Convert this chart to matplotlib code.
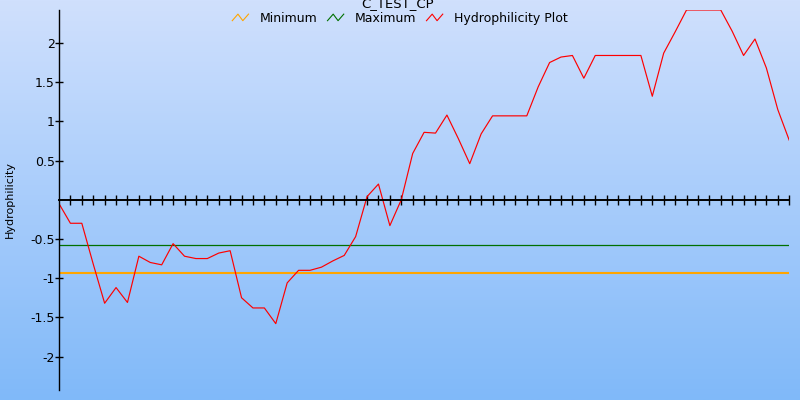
import numpy as np
import matplotlib
matplotlib.use("Agg")
import matplotlib.pyplot as plt
from matplotlib.lines import Line2D
from matplotlib.legend_handler import HandlerBase
from matplotlib.colors import LinearSegmentedColormap

plt.rcParams['font.family'] = ['DejaVu Sans']
plt.rcParams['axes.unicode_minus'] = False

# Data
title = "C_TEST_CP"
hydro = [-0.05, -0.30, -0.30, -0.82, -1.32, -1.12, -1.31, -0.72, -0.80, -0.83,
         -0.56, -0.72, -0.75, -0.75, -0.68, -0.65, -1.25, -1.38, -1.38, -1.58,
         -1.06, -0.90, -0.90, -0.86, -0.78, -0.71, -0.47, 0.04, 0.20, -0.33,
         0.00, 0.59, 0.86, 0.85, 1.08, 0.78, 0.46, 0.84, 1.07, 1.07,
         1.07, 1.07, 1.44, 1.75, 1.82, 1.84, 1.55, 1.84, 1.84, 1.84,
         1.84, 1.84, 1.32, 1.87, 2.14, 2.42, 2.42, 2.42, 2.42, 2.15,
         1.84, 2.05, 1.68, 1.15, 0.76]
positions = list(range(len(hydro)))
minimum = -0.93
maximum = -0.58
yticks = [-2, -1.5, -1, -0.5, 0.5, 1, 1.5, 2]
ytick_labels = ["-2", "-1.5", "-1", "-0.5", "0.5", "1", "1.5", "2"]


class ZigZag(HandlerBase):
    # little zigzag legend icons
    def create_artists(self, legend, orig_handle, xdescent, ydescent,
                       width, height, fontsize, trans):
        xs = np.array([0, 0.35, 0.65, 1.0]) * width - xdescent
        ys = np.array([0.15, 0.9, 0.15, 0.9]) * height - ydescent
        ln = Line2D(xs, ys, color=orig_handle.get_color(), lw=0.8)
        ln.set_transform(trans)
        return [ln]


fig = plt.figure(figsize=(8, 4), dpi=100)

# gradient background
bg = fig.add_axes([0, 0, 1, 1], zorder=-10)
cmap = LinearSegmentedColormap.from_list("bg", ["#d0e0fd", "#80b9f9"])
bg.imshow(np.linspace(0, 1, 256).reshape(-1, 1), aspect="auto", cmap=cmap,
          extent=[0, 1, 0, 1])
bg.set_axis_off()

ax = fig.add_axes([59 / 800, 1 - 389.5 / 400, (789.2 - 59) / 800, 379.5 / 400])
ax.set_facecolor("none")

ymax = max(abs(v) for v in hydro)
ax.set_xlim(0, len(hydro) - 1)
ax.set_ylim(-ymax, ymax)

l_min = ax.axhline(minimum, color="#ffa500", lw=1.5)
l_max = ax.axhline(maximum, color="#007000", lw=0.9)
l_hyd, = ax.plot(positions, hydro, color="#ff0000", lw=0.85)

for s in ["top", "right"]:
    ax.spines[s].set_visible(False)
ax.spines["bottom"].set_position(("data", 0))
ax.spines["bottom"].set_linewidth(1.4)
ax.spines["left"].set_linewidth(1.0)

ax.set_xticks(positions[1:])
ax.set_xticklabels([])
ax.tick_params(axis="x", direction="inout", length=7, width=1.0)
ax.set_yticks(yticks)
ax.set_yticklabels(ytick_labels)
ax.tick_params(axis="y", direction="inout", length=6, width=1.0,
               labelsize=9, pad=0)

ax.set_ylabel("Hydrophilicity", fontsize=8)
ax.yaxis.set_label_coords(-44 / 730, 0.5)

fig.text(0.4975, 1 - 4 / 400, title, ha="center", va="center", fontsize=9.5)

fig.legend([l_min, l_max, l_hyd], ["Minimum", "Maximum", "Hydrophilicity Plot"],
           handler_map={Line2D: ZigZag()}, loc="center",
           bbox_to_anchor=(0.5, 1 - 18.5 / 400), ncol=3, frameon=False,
           fontsize=9, handlelength=1.3, handletextpad=0.9, columnspacing=0.8,
           borderpad=0)

fig.savefig("out.png", dpi=100)
